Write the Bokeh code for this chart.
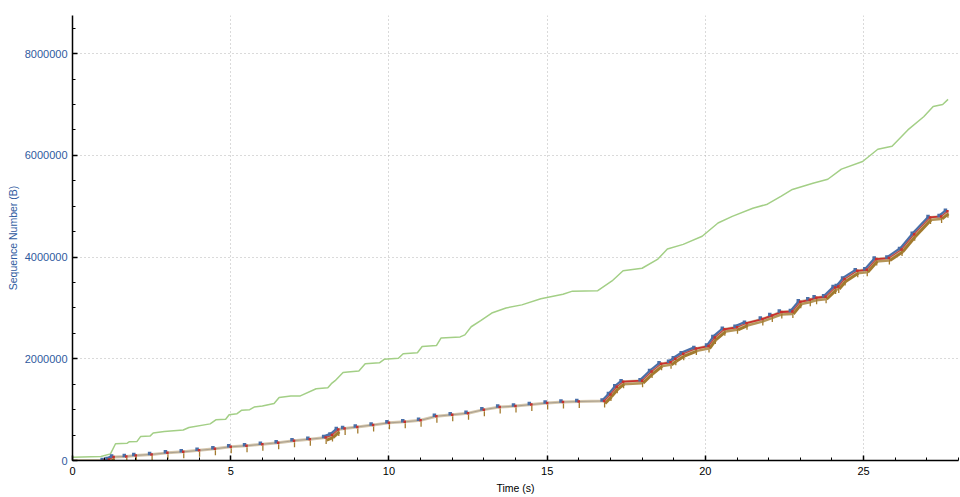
import numpy as np
from bokeh.plotting import figure
from bokeh.models import SingleIntervalTicker, BasicTickFormatter, Range1d
from bokeh.embed import file_html
from bokeh.resources import INLINE

# ---- data ----
# receive window line (green)
win_t = [0.0, 0.9, 1.2, 1.36, 1.73, 1.8, 2.04, 2.15, 2.45, 2.55, 2.9, 3.5, 3.68, 4.35, 4.53, 4.84, 4.95, 5.2, 5.35,
         5.6, 5.74, 6.0, 6.37, 6.53, 6.9, 7.2, 7.7, 8.07, 8.18, 8.3, 8.55, 8.7, 9.05, 9.25, 9.7, 9.85, 10.3, 10.45,
         10.9, 11.05, 11.5, 11.65, 12.25, 12.4, 12.6, 12.9, 13.25, 13.7, 14.2, 14.8, 15.5, 15.8, 16.6, 17.05, 17.4,
         18.0, 18.5, 18.8, 19.3, 19.9, 20.4, 20.85, 21.5, 21.96, 22.4, 22.75, 23.4, 23.87, 24.3, 24.97, 25.45,
         25.9, 26.4, 26.9, 27.2, 27.5, 27.67]
win_v = [65000, 80000, 130000, 330000, 340000, 370000, 375000, 470000, 480000, 540000, 570000, 600000, 650000,
         720000, 800000, 810000, 900000, 920000, 990000, 1000000, 1050000, 1070000, 1120000, 1240000, 1270000,
         1270000, 1410000, 1430000, 1510000, 1570000, 1730000, 1740000, 1760000, 1900000, 1920000, 1990000,
         2010000, 2100000, 2120000, 2240000, 2260000, 2410000, 2430000, 2470000, 2630000, 2750000, 2900000,
         3000000, 3060000, 3180000, 3270000, 3330000, 3340000, 3530000, 3730000, 3780000, 3960000, 4160000,
         4250000, 4410000, 4670000, 4800000, 4960000, 5040000, 5200000, 5330000, 5450000, 5530000, 5730000,
         5880000, 6120000, 6180000, 6500000, 6760000, 6960000, 7000000, 7100000]

# sequence numbers (data segments)
seq_t = [0.0, 1.0, 1.15, 1.3, 1.7, 2.0, 2.5, 3.0, 3.5, 4.0, 4.5, 5.0, 5.5, 6.0, 6.5, 7.0, 7.5, 8.0, 8.2, 8.4,
         8.6, 9.0, 9.5, 10.0, 10.5, 11.0, 11.5, 12.0, 12.5, 13.0, 13.5, 14.0, 14.5, 15.0, 15.5, 16.0, 16.8,
         17.0, 17.2, 17.4, 18.0, 18.3, 18.6, 18.9, 19.05, 19.3, 19.7, 20.1, 20.3, 20.6, 21.0, 21.3, 21.8,
         22.1, 22.4, 22.75, 23.0, 23.3, 23.5, 23.8, 24.1, 24.2, 24.4, 24.8, 25.1, 25.4, 25.8, 26.2, 26.6,
         27.1, 27.45, 27.65]
seq_v = [0, 0, 20000, 70000, 80000, 100000, 120000, 150000, 170000, 200000, 230000, 270000, 290000, 320000,
         350000, 390000, 420000, 450000, 500000, 610000, 630000, 660000, 700000, 740000, 760000, 790000,
         870000, 900000, 930000, 1000000, 1050000, 1070000, 1100000, 1130000, 1150000, 1160000, 1170000,
         1300000, 1450000, 1550000, 1570000, 1750000, 1900000, 1930000, 2000000, 2100000, 2200000, 2250000,
         2420000, 2580000, 2620000, 2700000, 2780000, 2850000, 2920000, 2930000, 3120000, 3160000, 3200000,
         3220000, 3400000, 3420000, 3570000, 3730000, 3750000, 3960000, 3980000, 4150000, 4450000, 4780000,
         4800000, 4900000]

x_ticks_interval = 5
y_ticks_interval = 2000000

X_END = 28.0
Y_END = 8750000

# ---- figure ----
p = figure(width=960, height=497, output_backend="svg", toolbar_location=None,
           x_range=Range1d(0, X_END), y_range=Range1d(0, Y_END),
           min_border_left=72, min_border_top=15, min_border_right=2, min_border_bottom=37)
p.outline_line_color = None
p.background_fill_color = "white"
p.border_fill_color = "white"

FONT = "Liberation Sans"
BLUE_TXT = "#2f5a9e"

p.xaxis.ticker = SingleIntervalTicker(interval=x_ticks_interval, num_minor_ticks=5)
p.yaxis.ticker = SingleIntervalTicker(interval=y_ticks_interval, num_minor_ticks=4)
p.yaxis.formatter = BasicTickFormatter(use_scientific=False)

for ax in (p.xaxis[0], p.yaxis[0]):
    ax.axis_line_color = "black"
    ax.axis_line_width = 1.5
    ax.major_tick_in = 5
    ax.major_tick_out = 0
    ax.minor_tick_in = 3
    ax.minor_tick_out = 0
    ax.major_tick_line_color = "black"
    ax.minor_tick_line_color = "black"
    ax.major_tick_line_width = 1.5
    ax.major_label_text_font = FONT
    ax.major_label_text_font_size = "11px"
    ax.axis_label_text_font = FONT
    ax.axis_label_text_font_size = "10.5px"
    ax.axis_label_text_font_style = "normal"

p.xaxis.axis_label = "Time (s)"
p.xaxis.major_label_text_color = "black"
p.xaxis.axis_label_text_color = "black"
p.xaxis.major_label_standoff = 6
p.xaxis.axis_label_standoff = 4

p.yaxis.axis_label = "Sequence Number (B)"
p.yaxis.major_label_text_color = BLUE_TXT
p.yaxis.axis_label_text_color = BLUE_TXT
p.yaxis.major_label_standoff = 5
p.yaxis.axis_label_standoff = 3

for g in (p.xgrid[0], p.ygrid[0]):
    g.grid_line_color = "#b4b4b4"
    g.grid_line_dash = "1 3"
    g.grid_line_width = 1

# ---- glyphs ----
# receive window
p.line(win_t, win_v, line_color="#a3cf86", line_width=1.5)

st = np.array(seq_t, dtype=float)
sv = np.array(seq_v, dtype=float)
dx = X_END / 886.0      # one pixel in data units
dy = Y_END / 445.0

# base line
p.line(st, sv, line_color="#d5c7ae", line_width=3)
p.line(st, sv, line_color="#7d756b", line_width=0.8, line_alpha=0.6)

# dense bands on steep parts (many segments in flight)
slope = np.diff(sv) / np.diff(st)
steep = slope > 250000
x0 = st[:-1][steep]; x1 = st[1:][steep]
y0 = sv[:-1][steep]; y1 = sv[1:][steep]
p.segment(x0 + dx, y0 - 2.5 * dy, x1 + dx, y1 - 2.5 * dy, line_color="#a27a2e", line_width=3)
p.segment(x0 - dx, y0 + 1.5 * dy, x1 - dx, y1 + 1.5 * dy, line_color="#4a6fa8", line_width=2.2)
p.segment(x0, y0, x1, y1, line_color="#c9302c", line_width=1.2, line_alpha=0.8)

# flats at high levels: red top with brown below
flat = (~steep) & (st[:-1] > 16.9)
fx0 = st[:-1][flat]; fx1 = st[1:][flat]
fy0 = sv[:-1][flat]; fy1 = sv[1:][flat]
p.segment(fx0, fy0 - 2.5 * dy, fx1, fy1 - 2.5 * dy, line_color="#a27a2e", line_width=2.5, line_alpha=0.8)
p.segment(fx0, fy0, fx1, fy1, line_color="#c9302c", line_width=1.8)

# per-segment markers
p.scatter(st[1:] + 0.5 * dx, sv[1:] - 4 * dy, marker="dash", angle=np.pi / 2, size=5,
          line_color="#a27a2e", line_width=1.3)
p.scatter(st[1:] - 2 * dx, sv[1:] + 1 * dy, marker="square", size=3.5,
          fill_color="#4a6fa8", line_color=None)
p.scatter(st[1:], sv[1:], marker="square", size=2.5, fill_color="#c9302c", line_color=None)

open("out.html", "w").write(file_html(p, INLINE))
